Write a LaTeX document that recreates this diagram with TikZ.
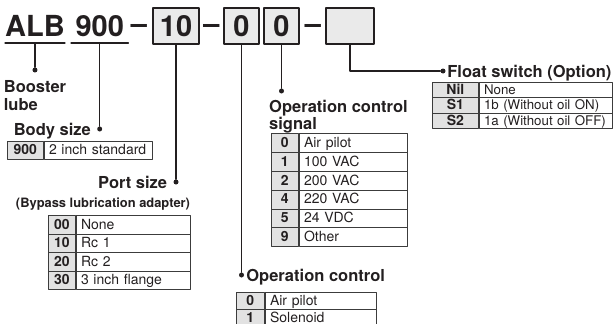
\documentclass[tikz,border=0pt]{standalone}
\usepackage{fontspec}
\setmainfont{TeX Gyre Heros}
\usetikzlibrary{positioning}
\definecolor{inkblack}{RGB}{35,31,32}
\definecolor{boxgray}{RGB}{234,234,234}
\definecolor{cellgray}{RGB}{226,226,226}
\definecolor{tabline}{RGB}{60,60,60}

\newcommand{\partfont}{\bfseries\fontsize{29}{29}\selectfont}
\newcommand{\hdrfont}{\bfseries\fontsize{16.5}{18}\selectfont}
\newcommand{\tabfont}{\fontsize{14}{16}\selectfont}
\newcommand{\smalltab}{\fontsize{13.3}{15}\selectfont}

\begin{document}
\begin{tikzpicture}[x=1pt, y=-1pt, line cap=round, line join=round,
    wire/.style={draw=inkblack, line width=1.2pt},
    part/.style={font=\partfont, text=inkblack, inner sep=0pt, text height=21pt, text depth=6pt},
    digitbox/.style={draw=inkblack, fill=boxgray, line width=1.3pt, font=\partfont, text=inkblack, inner sep=0pt, minimum height=36pt, text height=21pt, text depth=0pt},
    sepdash/.style={font=\partfont, text=inkblack, inner sep=0pt, anchor=base},
    pin/.style={circle, fill=inkblack, inner sep=0pt, minimum size=5pt},
    hdr/.style={font=\hdrfont, text=inkblack, inner sep=0pt},
    side/.style={hdr, text height=12pt, text depth=0pt},
    cell/.style={draw=tabline, line width=0.7pt, anchor=north west, inner sep=0pt, minimum height=#1, text height=11pt, text depth=2pt, text=inkblack},
    codecell/.style={cell=#1, fill=cellgray},
    textcell/.style={cell=#1, inner xsep=5pt, align=left}]

    \useasboundingbox (0,0) rectangle (616,324);

    % model code
    \node[part, anchor=south west] (alb) at (5,43) {ALB};
    \node[part, anchor=south west, minimum width=57pt] (nine) at (71,43) {900};
    \node[sepdash] (sep1) at (139,33.5) {–};
    \node[digitbox, minimum width=46pt] (port) at (176,26) {10};
    \node[sepdash] (sep2) at (211.5,33.5) {–};
    \node[digitbox, minimum width=35pt] (ctl) at (241.5,26) {0};
    \node[digitbox, minimum width=35pt] (sig) at (281.5,26) {0};
    \node[sepdash] (sep3) at (313,33.5) {–};
    \node[digitbox, minimum width=48pt] (flt) at (350,26) {};

    \draw[wire] (alb.south west) -- (alb.south east);
    \draw[wire] (nine.south west) -- (nine.south east);

    % pins
    \node[pin] (lubedot) at (alb.south |- 0,70) {};
    \node[pin] (bodydot) at (nine.south |- 0,129) {};
    \node[pin] (portdot) at (port.south |- 0,182) {};
    \node[pin] (ctldot) at (ctl.south |- 0,275) {};
    \node[pin] (sigdot) at (sig.south |- 0,91) {};
    \node[pin] (fltdot) at (443,71) {};

    \draw[wire] (alb.south) -- (lubedot);
    \draw[wire] (nine.south) -- (bodydot);
    \draw[wire] (port.south) -- (portdot);
    \draw[wire] (ctl.south) -- (ctldot);
    \draw[wire] (sig.south) -- (sigdot);
    \draw[wire] (flt.south) |- (fltdot);

    % labels
    \node[hdr, align=left, below=8pt of lubedot] (lubelbl) {Booster\\lube};
    \node[side, left=6pt of bodydot] (bodylbl) {Body size};
    \node[side, left=6pt of portdot] (portlbl) {Port size};
    \node[hdr, font=\bfseries\fontsize{12.9}{14}\selectfont, anchor=base] (bypasslbl) at (103,207) {(Bypass lubrication adapter)};
    \node[hdr, font=\bfseries\fontsize{16.5}{14}\selectfont, align=left, anchor=north west] (siglbl) at (269,100) {Operation control\\signal};
    \node[side, right=2pt of ctldot] (ctllbl) {Operation control};
    \node[side, right=1.5pt of fltdot] (fltlbl) {Float switch (Option)};

    % body size table
    \node[codecell=18pt, minimum width=36pt, font=\tabfont] (bodyc) at (7,141) {\bfseries 900};
    \node[textcell=18pt, text width=98pt, font=\tabfont] (bodyt) at (bodyc.north east) {\mbox{2 inch standard}};

    % port size table
    \foreach \c/\t [count=\i] in {00/None, 10/Rc 1, 20/Rc 2, 30/3 inch flange} {
        \node[codecell=18.5pt, minimum width=27pt, font=\tabfont] (portc\i) at (48,{215+18.5*(\i-1)}) {\bfseries\c};
        \node[textcell=18.5pt, text width=104pt, font=\tabfont] (portt\i) at (portc\i.north east) {\mbox{\t}};
    }

    % operation control signal table
    \foreach \c/\t [count=\i] in {0/Air pilot, 1/100 VAC, 2/200 VAC, 4/220 VAC, 5/24 VDC, 9/Other} {
        \node[codecell=18.8pt, minimum width=27pt, font=\tabfont] (sigc\i) at (271,{133.3+18.8*(\i-1)}) {\bfseries\c};
        \node[textcell=18.8pt, text width=98pt, font=\tabfont] (sigt\i) at (sigc\i.north east) {\mbox{\t}};
    }

    % operation control table
    \foreach \c/\t [count=\i] in {0/Air pilot, 1/Solenoid} {
        \node[codecell=17pt, minimum width=28pt, font=\tabfont] (ctlc\i) at (236,{292+17*(\i-1)}) {\bfseries\c};
        \node[textcell=17pt, text width=101pt, font=\tabfont] (ctlt\i) at (ctlc\i.north east) {\mbox{\t}};
    }

    % float switch table
    \foreach \c/\t [count=\i] in {Nil/None, S1/1b (Without oil ON), S2/1a (Without oil OFF)} {
        \node[codecell=15.3pt, minimum width=46pt, font=\tabfont] (fltc\i) at (432,{82+15.3*(\i-1)}) {\bfseries\c};
        \node[textcell=15.3pt, text width=123pt, font=\smalltab] (fltt\i) at (fltc\i.north east) {\mbox{\t}};
    }
\end{tikzpicture}
\end{document}
